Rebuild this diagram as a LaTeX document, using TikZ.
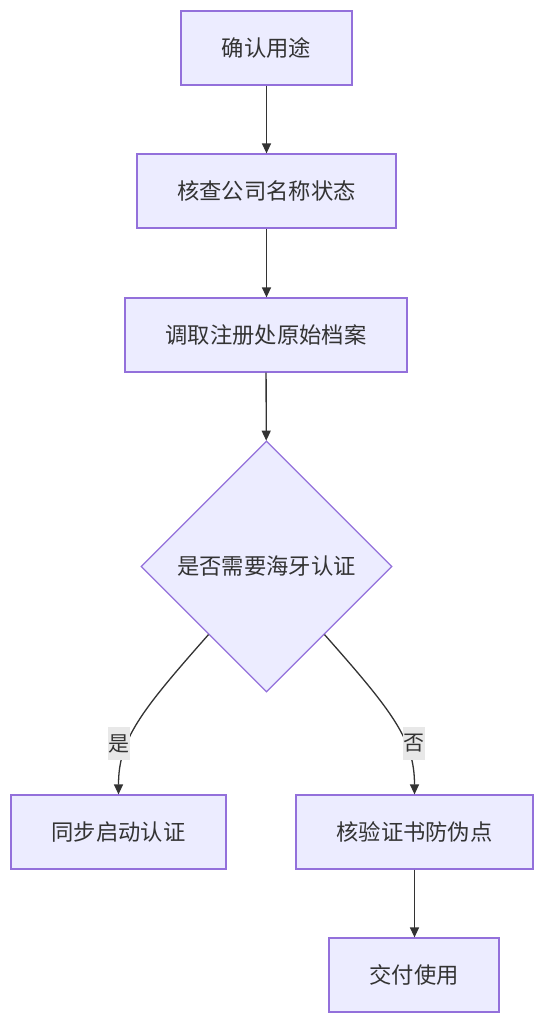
\documentclass[tikz,border=0pt]{standalone}
\usepackage{fontspec}
\setmainfont{Noto Sans CJK SC}
\usetikzlibrary{shapes.geometric,arrows.meta,calc}
\definecolor{nodefill}{HTML}{ECECFF}
\definecolor{nodeline}{HTML}{9370DB}
\definecolor{edgeline}{HTML}{333333}
\definecolor{labelbg}{HTML}{E8E8E8}
\begin{document}
\begin{tikzpicture}[x=1pt,y=-1pt,
  box/.style={draw=nodeline, fill=nodefill, line width=1.2pt, inner sep=0pt,
    minimum height=74pt, text=edgeline, font=\fontsize{22.3}{22.3}\selectfont},
  decision/.style={diamond, aspect=1, draw=nodeline, fill=nodefill, line width=1.2pt,
    inner sep=0pt, minimum size=251pt, text=edgeline, font=\fontsize{22.3}{22.3}\selectfont},
  edge/.style={draw=edgeline, line width=1.3pt, -{Triangle[length=10pt,width=9pt]}},
  elabel/.style={fill=labelbg, inner sep=0pt, minimum width=22pt, minimum height=33pt,
    text=edgeline, font=\fontsize{21}{21}\selectfont}]
\useasboundingbox (0,0) rectangle (544,1024);
\fill[white] (0,0) rectangle (544,1024);
\node[box, minimum width=171pt] (a) at (266.5,48) {确认用途};
\node[box, minimum width=259pt] (b) at (266.5,191) {核查公司名称状态};
\node[box, minimum width=282pt] (c) at (266,335) {调取注册处原始档案};
\node[decision] (d) at (266.5,566.5) {是否需要海牙认证};
\node[box, minimum width=215pt] (l) at (118.5,832) {同步启动认证};
\node[box, minimum width=237pt] (r) at (414.5,832) {核验证书防伪点};
\node[box, minimum width=170pt] (e) at (414,975) {交付使用};
\coordinate (dl) at ($(d.west)!0.54!(d.south)$);
\coordinate (dr) at ($(d.east)!0.54!(d.south)$);
\draw[edge] (a) -- (b);
\draw[edge] (b) -- (c.north -| b);
\draw[edge] (c) -- (d);
\draw[edge] (dl) .. controls (140,712) and (118.5,740) .. (l.north);
\draw[edge] (dr) .. controls (393,712) and (414.5,740) .. (r.north);
\draw[edge] (r) -- (e.north -| r);
\node[elabel] (ly) at (119,743.5) {是};
\node[elabel] (ln) at (414,743.5) {否};
\end{tikzpicture}
\end{document}
